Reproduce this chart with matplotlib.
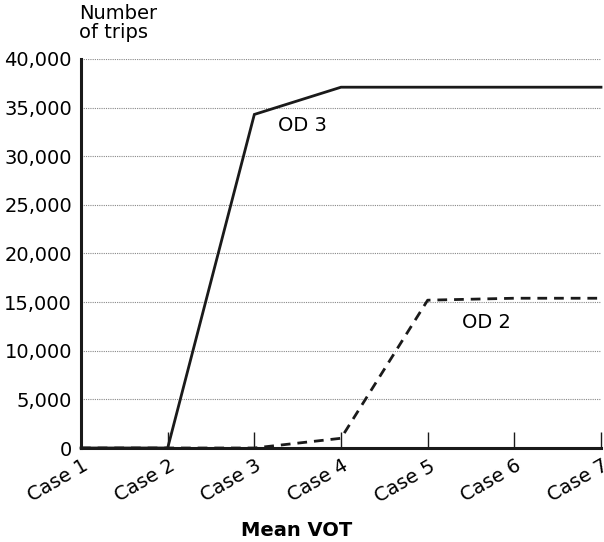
import matplotlib
matplotlib.use("Agg")
import matplotlib.pyplot as plt
import matplotlib.transforms as mtransforms

plt.rcParams['font.family'] = ['DejaVu Sans']

cases = ["Case 1", "Case 2", "Case 3", "Case 4", "Case 5", "Case 6", "Case 7"]
od3 = [0, 0, 34300, 37100, 37100, 37100, 37100]
od2 = [0, 0, 0, 1000, 15200, 15400, 15400]
yticks = [0, 5000, 10000, 15000, 20000, 25000, 30000, 35000, 40000]
ytick_labels = ["0", "5,000", "10,000", "15,000", "20,000", "25,000", "30,000", "35,000", "40,000"]

FS = 14

fig = plt.figure(figsize=(6.04, 5.42), dpi=100)
ax = fig.add_axes([81/604, 1-448/542, 520/604, (448-59)/542])

x = list(range(len(cases)))
ax.plot(x, od3, color='#1a1a1a', lw=2.0, solid_joinstyle='miter', zorder=3, clip_on=False)
ax.plot(x, od2, color='#1a1a1a', lw=2.0, ls=(0, (3.5, 2.5)), zorder=3, clip_on=False)

ax.set_xlim(0, 6)
ax.set_ylim(0, 40000)
ax.set_yticks(yticks)
ax.set_yticklabels(ytick_labels, fontsize=FS)
ax.set_xticks(x)

ax.tick_params(axis='y', length=0, pad=6.5)
ax.tick_params(axis='x', direction='in', length=11.5, width=1.0, color='#1a1a1a', pad=6.0)

ax.set_xticklabels(cases, fontsize=FS, rotation=30, ha='right', va='top', rotation_mode='anchor')
offset = mtransforms.ScaledTranslation(1/100, 0, fig.dpi_scale_trans)
for lab in ax.get_xticklabels():
    lab.set_transform(lab.get_transform() + offset)

ax.grid(axis='y', ls=(0, (1, 1)), color='#888888', lw=0.8)
ax.set_axisbelow(True)

for s in ['top', 'right']:
    ax.spines[s].set_visible(False)
for s in ['left', 'bottom']:
    ax.spines[s].set_linewidth(2.2)
    ax.spines[s].set_color('#1a1a1a')

ax.text(2.56, 32600, "OD 3", fontsize=FS, ha='center', va='baseline')
ax.text(4.68, 12340, "OD 2", fontsize=FS, ha='center', va='baseline')

fig.text(79/604, 1-4/542, "Number\nof trips", fontsize=FS, ha='left', va='top', linespacing=1.0)
fig.text(297/604, 1-536/542, "Mean VOT", fontsize=FS, fontweight='bold', ha='center', va='baseline')

fig.savefig("out.png", dpi=100)
